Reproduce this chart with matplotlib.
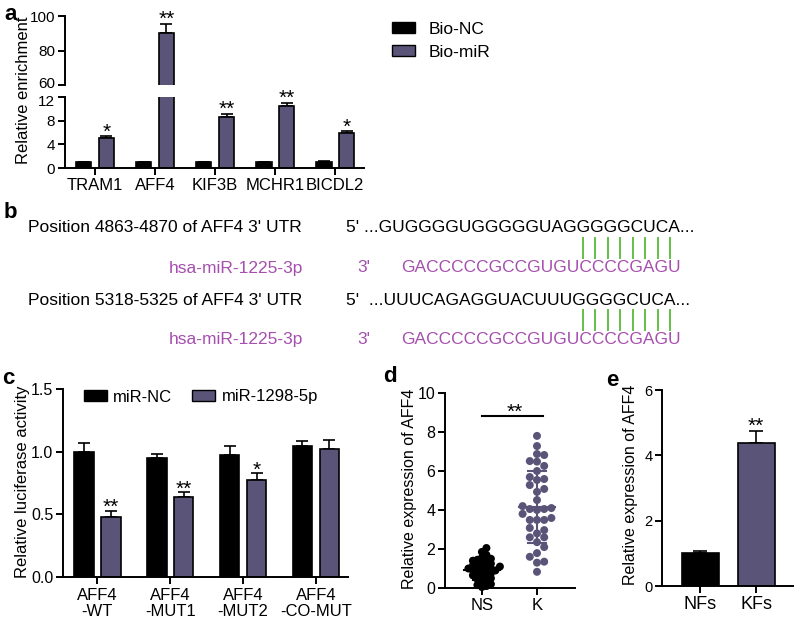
import numpy as np
import matplotlib
matplotlib.use('Agg')
import matplotlib.pyplot as plt
import matplotlib.transforms as mtransforms
from matplotlib.patches import Patch
from matplotlib.lines import Line2D

plt.rcParams['font.family'] = ['Liberation Sans', 'DejaVu Sans']
plt.rcParams['axes.linewidth'] = 1.4

# ---------------- data ----------------
# panel a: RNA pull-down enrichment
genes = ['TRAM1', 'AFF4', 'KIF3B', 'MCHR1', 'BICDL2']
enr_nc = [1.0, 1.0, 1.0, 1.0, 1.0]
enr_nc_err = [0.08, 0.08, 0.08, 0.08, 0.12]
enr_mir = [5.0, 90.0, 8.6, 10.5, 6.0]
enr_mir_err = [0.4, 5.5, 0.6, 0.5, 0.25]
enr_stars = ['*', '**', '**', '**', '*']

# panel b: binding sites
site_labels = ["Position 4863-4870 of AFF4 3' UTR", "Position 5318-5325 of AFF4 3' UTR"]
site_seqs = ["5' ...GUGGGGUGGGGGUAGGGGGCUCA...", "5'  ...UUUCAGAGGUACUUUGGGGCUCA..."]
mirna_name = 'hsa-miR-1225-3p'
mirna_seq = 'GACCCCCGCCGUGUCCCCGAGU'
n_pairs = 8

# panel c: luciferase
constructs = ['AFF4\n-WT', 'AFF4\n-MUT1', 'AFF4\n-MUT2', 'AFF4\n-CO-MUT']
luc_nc = [1.0, 0.95, 0.975, 1.045]
luc_nc_err = [0.07, 0.03, 0.07, 0.04]
luc_mir = [0.48, 0.64, 0.775, 1.025]
luc_mir_err = [0.05, 0.04, 0.055, 0.065]
luc_stars = ['**', '**', '*', '']

# panel d: tissue expression
groups_d = ['NS', 'K']
ns_vals = [2.05, 1.85, 1.7, 1.55, 1.5, 1.45, 1.4, 1.35, 1.3, 1.25, 1.2, 1.15,
           1.1, 1.1, 1.05, 1.0, 1.0, 0.95, 0.9, 0.9, 0.85, 0.8, 0.75, 0.7,
           0.65, 0.6, 0.55, 0.5, 0.45, 0.35, 0.3, 0.2, 0.15, 0.1, 0.05]
k_vals = [7.8, 7.28, 6.87, 6.82, 6.51, 6.48, 6.26, 6.0, 5.69, 5.59, 5.54, 5.28,
          5.08, 4.93, 4.51, 4.2, 4.1, 4.05, 4.05, 4.0, 3.8, 3.59, 3.49, 3.49,
          3.49, 3.08, 2.97, 2.8, 2.6, 2.6, 2.35, 2.1, 1.79, 1.6, 1.35, 1.3, 0.83]

# panel e: fibroblasts
groups_e = ['NFs', 'KFs']
fib_vals = [1.0, 4.37]
fib_err = [0.07, 0.38]

PURPLE = '#5b5479'
MAGENTA = '#a54fae'
GREEN = '#62bf45'

W, H = 800, 619


def fx(px):
    return px / W


def fy(py):
    return 1 - py / H


def box(l, t, r, b):
    return [fx(l), fy(b), (r - l) / W, (b - t) / H]


def style(ax, fs):
    for s in ['top', 'right']:
        ax.spines[s].set_visible(False)
    ax.tick_params(direction='out', length=5, width=1.4, labelsize=fs, pad=2)


def bars(ax, x, vals, errs, color, width):
    ax.bar(x, vals, width, color=color, edgecolor='black', linewidth=1.2, zorder=2)
    ax.errorbar(x, vals, yerr=[np.zeros(len(vals)), errs], fmt='none', ecolor='black',
                elinewidth=1.2, capsize=4, capthick=1.2, zorder=1)


def star(ax, x, y, s, dy=3, fs=15):
    ax.annotate(s, (x, y), xytext=(0, dy), textcoords='offset points', ha='center',
                va='center', fontsize=fs, annotation_clip=False)


def swarm(ax, x0, vals, diam, step):
    pts = ax.transData.transform(np.column_stack([np.full(len(vals), x0), vals]))
    px_per_x = ax.transData.transform((1, 0))[0] - ax.transData.transform((0, 0))[0]
    order = np.argsort(vals)
    placed = []
    offs = np.zeros(len(vals))
    for i in order:
        py = pts[i, 1]
        for k in range(60):
            cands = [0.0] if k == 0 else [k * step, -k * step]
            ok = None
            for c in cands:
                if all((c - p[0]) ** 2 + (py - p[1]) ** 2 >= diam ** 2 for p in placed):
                    ok = c
                    break
            if ok is not None:
                placed.append((ok, py))
                offs[i] = ok / px_per_x
                break
    return x0 + offs


fig = plt.figure(figsize=(8, 6.19), dpi=100)

# ---------------- panel a ----------------
ax_hi = fig.add_axes(box(65, 16, 364, 85))
ax_lo = fig.add_axes(box(65, 97, 364, 168))
xa = np.arange(len(genes))
for ax in (ax_hi, ax_lo):
    style(ax, 11)
    bars(ax, xa - 0.19, enr_nc, enr_nc_err, 'black', 0.26)
    bars(ax, xa + 0.19, enr_mir, enr_mir_err, PURPLE, 0.26)
    ax.set_xlim(-0.5, 4.48)
ax_hi.set_ylim(60, 100)
ax_hi.set_yticks([60, 80, 100])
ax_hi.spines['bottom'].set_visible(False)
ax_hi.set_xticks([])
ax_lo.set_ylim(0, 12)
ax_lo.set_yticks([0, 4, 8, 12])
ax_lo.set_xticks(xa)
ax_lo.set_xticklabels(genes, fontsize=12)
# nudge the two labels at the axis break apart a little
ax_hi.get_yticklabels()[0].set_transform(
    ax_hi.get_yticklabels()[0].get_transform() + mtransforms.ScaledTranslation(0, 3 / 100, fig.dpi_scale_trans))
ax_lo.get_yticklabels()[-1].set_transform(
    ax_lo.get_yticklabels()[-1].get_transform() + mtransforms.ScaledTranslation(0, -3 / 100, fig.dpi_scale_trans))
for i, s in enumerate(enr_stars):
    top = enr_mir[i] + enr_mir_err[i]
    star(ax_hi if top > 12 else ax_lo, xa[i] + 0.19, top, s, dy=3)
fig.text(fx(24), fy(90), 'Relative enrichment', rotation=90, ha='center', va='center', fontsize=12)
fig.legend(handles=[Patch(facecolor='black', edgecolor='black', label='Bio-NC'),
                    Patch(facecolor=PURPLE, edgecolor='black', label='Bio-miR')],
           loc='upper left', bbox_to_anchor=(fx(392), fy(22)), frameon=False, fontsize=12.5,
           handlelength=1.3, handleheight=0.6, handletextpad=0.8, labelspacing=0.45,
           borderpad=0, borderaxespad=0)

# ---------------- panel b ----------------
for j, (lab, seq) in enumerate(zip(site_labels, site_seqs)):
    y0 = 228 + j * 72
    fig.text(fx(28), fy(y0), lab, ha='left', va='center', fontsize=12.5)
    fig.text(fx(346), fy(y0), seq, ha='left', va='center', fontsize=12.5)
    xs = np.linspace(583, 670, n_pairs)
    for xp in xs:
        fig.add_artist(Line2D([fx(xp), fx(xp)], [fy(y0 + 10), fy(y0 + 30)], color=GREEN, lw=1.4))
    fig.text(fx(169), fy(y0 + 40), mirna_name, ha='left', va='center', fontsize=12.5, color=MAGENTA)
    fig.text(fx(357), fy(y0 + 40), "3'", ha='left', va='center', fontsize=12.5, color=MAGENTA)
    fig.text(fx(401), fy(y0 + 40), mirna_seq, ha='left', va='center', fontsize=12.5, color=MAGENTA)

# ---------------- panel c ----------------
axc = fig.add_axes(box(63, 389, 348, 577))
style(axc, 11.5)
xc = np.arange(len(constructs))
bars(axc, xc - 0.185, luc_nc, luc_nc_err, 'black', 0.27)
bars(axc, xc + 0.185, luc_mir, luc_mir_err, PURPLE, 0.27)
for i, s in enumerate(luc_stars):
    if s:
        star(axc, xc[i] + 0.185, luc_mir[i] + luc_mir_err[i], s, dy=2)
axc.set_xlim(-0.47, 3.44)
axc.set_ylim(0, 1.5)
axc.set_yticks([0, 0.5, 1.0, 1.5])
axc.set_yticklabels(['0.0', '0.5', '1.0', '1.5'])
axc.set_xticks(xc)
axc.set_xticklabels(constructs, linespacing=1.1, fontsize=12)
axc.tick_params(axis='x', pad=3)
fig.text(fx(23), fy(482), 'Relative luciferase activity', rotation=90, ha='center', va='center', fontsize=12)
axc.legend(handles=[Patch(facecolor='black', edgecolor='black', label='miR-NC'),
                    Patch(facecolor=PURPLE, edgecolor='black', label='miR-1298-5p')],
           loc='center left', bbox_to_anchor=(fx(84), fy(397)), bbox_transform=fig.transFigure,
           ncol=2, frameon=False, fontsize=12, handlelength=1.35, handleheight=0.6,
           handletextpad=0.4, columnspacing=1.2, borderpad=0, borderaxespad=0)

# ---------------- panel d ----------------
axd = fig.add_axes(box(445, 393, 575, 588))
style(axd, 11.5)
axd.set_xlim(-0.67, 1.69)
axd.set_ylim(0, 10)
axd.set_yticks([0, 2, 4, 6, 8, 10])
axd.set_xticks([0, 1])
axd.set_xticklabels(groups_d, fontsize=12)
for gi, (vals, col, dia, stp) in enumerate([(ns_vals, 'black', 4.5, 4.5), (k_vals, PURPLE, 7.2, 7.2)]):
    vals = np.array(vals)
    xs = swarm(axd, gi, vals, dia, stp)
    axd.scatter(xs, vals, s=33, color=col, edgecolors='none', zorder=3, clip_on=False)
    m, sd = vals.mean(), vals.std(ddof=1)
    axd.plot([gi - 0.32, gi + 0.32], [m, m], color=col, lw=1.5, zorder=4)
    axd.plot([gi, gi], [m - sd, m + sd], color=col, lw=1.5, zorder=4)
    for yy in (m - sd, m + sd):
        axd.plot([gi - 0.17, gi + 0.17], [yy, yy], color=col, lw=1.5, zorder=4)
axd.plot([0, 1.1], [8.8, 8.8], color='black', lw=1.5)
star(axd, 0.6, 8.8, '**', dy=3)
fig.text(fx(410), fy(489), 'Relative expression of AFF4', rotation=90, ha='center', va='center', fontsize=11.5)

# ---------------- panel e ----------------
axe = fig.add_axes(box(662, 390, 793, 586))
style(axe, 10.5)
xe = np.arange(len(groups_e))
axe.bar(xe, fib_vals, 0.66, color=['black', PURPLE], edgecolor='black', linewidth=1.2, zorder=2)
axe.errorbar(xe, fib_vals, yerr=[np.zeros(2), fib_err], fmt='none', ecolor='black',
             elinewidth=1.2, capsize=5, capthick=1.2, zorder=1)
star(axe, 1, fib_vals[1] + fib_err[1], '**', dy=3)
axe.set_xlim(-0.68, 1.66)
axe.set_ylim(0, 6)
axe.set_yticks([0, 2, 4, 6])
axe.set_xticks(xe)
axe.set_xticklabels(groups_e, fontsize=13)
fig.text(fx(630), fy(485), 'Relative expression of AFF4', rotation=90, ha='center', va='center', fontsize=11.5)

# panel letters
for lab, (px, py) in zip('abcde', [(11, 14), (10, 212), (8, 378), (390, 377), (612, 380)]):
    fig.text(fx(px), fy(py), lab, fontsize=16, fontweight='bold', ha='center', va='center')

fig.savefig('out.png', dpi=100)
